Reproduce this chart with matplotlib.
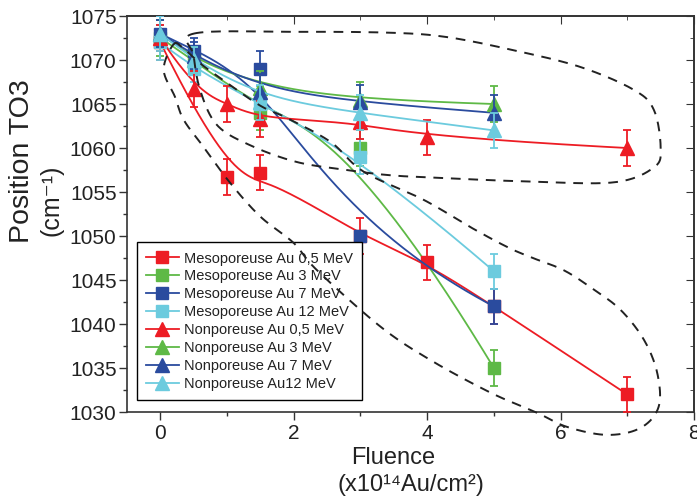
import numpy as np
import matplotlib
matplotlib.use("Agg")
import matplotlib.pyplot as plt
from matplotlib.ticker import MultipleLocator

plt.rcParams['font.family'] = ['Liberation Sans', 'DejaVu Sans']

# ---------------- data ----------------
labels = ["Mesoporeuse Au 0,5 MeV", "Mesoporeuse Au 3 MeV", "Mesoporeuse Au 7 MeV",
          "Mesoporeuse Au 12 MeV", "Nonporeuse Au 0,5 MeV", "Nonporeuse Au 3 MeV",
          "Nonporeuse Au 7 MeV", "Nonporeuse Au12 MeV"]

meso_05_x = [0, 1, 1.5, 3, 4, 5, 7]
meso_05_y = [1072, 1056.7, 1057.2, 1050, 1047, 1042, 1032]
meso_05_e = [2, 2, 2, 2, 2, 2, 2]
meso_3_x = [0, 0.5, 1.5, 3, 5]
meso_3_y = [1072.5, 1070, 1064, 1060, 1035]
meso_3_e = [2, 1.5, 2, 2, 2]
meso_7_x = [0, 0.5, 1.5, 3, 5]
meso_7_y = [1073, 1071, 1069, 1050, 1042]
meso_7_e = [2, 1.5, 2, 0.3, 2]
meso_12_x = [0, 0.5, 1.5, 3, 5]
meso_12_y = [1072, 1069, 1065, 1059, 1046]
meso_12_e = [2, 1.5, 2, 2, 2]

non_05_x = [0, 0.5, 1, 1.5, 3, 4, 7]
non_05_y = [1072.5, 1066.7, 1065, 1063.3, 1063, 1061.2, 1060]
non_05_e = [1.5, 2, 2, 2, 2, 2, 2]
non_3_x = [0, 0.5, 1.5, 3, 5]
non_3_y = [1073, 1070, 1066.8, 1065.5, 1065]
non_3_e = [1.5, 1.5, 2, 2, 2]
non_7_x = [0, 0.5, 1.5, 3, 5]
non_7_y = [1073, 1070.5, 1066.4, 1065.2, 1064]
non_7_e = [1.5, 1.5, 2, 2, 2]
non_12_x = [0, 0.5, 1.5, 3, 5]
non_12_y = [1073, 1070, 1065.2, 1064, 1062]
non_12_e = [2, 1.5, 2, 2, 2]

# annotation loops (data coordinates)
upper_loop_x = [0.5, 2.0, 3.45, 4.3, 5.3, 6.3, 7.1, 7.4, 7.5, 7.4, 6.8, 5.5, 4.2, 3.45,
                2.8, 2.05, 1.35, 0.85, 0.6, 0.5]
upper_loop_y = [1073.0, 1073.2, 1073.1, 1072.6, 1071.1, 1069.2, 1066.6, 1064.3, 1060.0,
                1057.8, 1056.1, 1056.2, 1056.6, 1056.9, 1057.5, 1058.4, 1060.3, 1062.6,
                1066.5, 1070.5]
lower_loop_x = [0.2, 0.35, 0.6, 1.0, 1.5, 1.9, 2.55, 3.05, 3.95, 4.65, 5.2, 5.55, 6.05,
                6.5, 6.9, 7.25, 7.45, 7.47, 7.2, 6.7, 6.1, 5.65, 4.95, 4.05, 3.3, 2.35,
                2.0, 1.5, 1.05, 0.65, 0.35, 0.22, 0.05]
lower_loop_y = [1071.8, 1071.3, 1069.6, 1067.4, 1064.8, 1063.4, 1060.7, 1057.3, 1054.1,
                1051.0, 1048.75, 1047.6, 1046.1, 1043.9, 1041.6, 1038.2, 1034.4, 1030.6,
                1028.2, 1027.4, 1028.3, 1029.9, 1032.2, 1035.9, 1039.7, 1046.1, 1049.2,
                1052.2, 1056.0, 1060.1, 1063.2, 1065.8, 1068.9]

xticks = [0, 2, 4, 6, 8]
yticks = [1030, 1035, 1040, 1045, 1050, 1055, 1060, 1065, 1070, 1075]

colors = ['#ED1C24', '#5EB946', '#2A4B9E', '#6CCBDE']


def bspline(x, y, n=300, k=3):
    P = np.column_stack([x, y]).astype(float)
    m = len(P)
    k = min(k, m - 1)
    knots = np.concatenate([[0] * (k + 1), np.arange(1, m - k), [m - k] * (k + 1)]).astype(float)
    t = np.linspace(0, m - k, n)
    t[-1] -= 1e-9
    N = np.zeros((n, len(knots) - 1))
    for i in range(len(knots) - 1):
        N[:, i] = (knots[i] <= t) & (t < knots[i + 1])
    for d in range(1, k + 1):
        Nn = np.zeros((n, len(knots) - 1 - d))
        for i in range(len(knots) - 1 - d):
            a = 0.0
            b = 0.0
            den1 = knots[i + d] - knots[i]
            den2 = knots[i + d + 1] - knots[i + 1]
            if den1 > 0:
                a = (t - knots[i]) / den1 * N[:, i]
            if den2 > 0:
                b = (knots[i + d + 1] - t) / den2 * N[:, i + 1]
            Nn[:, i] = a + b
        N = Nn
    C = N @ P
    return C[:, 0], C[:, 1]


def closed_cr(x, y, n=20):
    P = np.column_stack([x, y]).astype(float)
    m = len(P)
    out = []
    t = np.linspace(0, 1, n, endpoint=False)[:, None]
    for i in range(m):
        p0, p1, p2, p3 = P[i - 1], P[i], P[(i + 1) % m], P[(i + 2) % m]
        seg = 0.5 * (2 * p1 + (-p0 + p2) * t + (2 * p0 - 5 * p1 + 4 * p2 - p3) * t ** 2
                     + (-p0 + 3 * p1 - 3 * p2 + p3) * t ** 3)
        out.append(seg)
    out.append(P[:1])
    C = np.vstack(out)
    return C[:, 0], C[:, 1]


fig = plt.figure(figsize=(6.97, 4.97), dpi=100)
ax = fig.add_axes([0.1822, 0.171, 0.8135, 0.7968])

series = [
    (meso_05_x, meso_05_y, meso_05_e, 's', colors[0]),
    (meso_3_x, meso_3_y, meso_3_e, 's', colors[1]),
    (meso_7_x, meso_7_y, meso_7_e, 's', colors[2]),
    (meso_12_x, meso_12_y, meso_12_e, 's', colors[3]),
    (non_05_x, non_05_y, non_05_e, '^', colors[0]),
    (non_3_x, non_3_y, non_3_e, '^', colors[1]),
    (non_7_x, non_7_y, non_7_e, '^', colors[2]),
    (non_12_x, non_12_y, non_12_e, '^', colors[3]),
]

handles = []
for idx, ((x, y, e, mk, c), lab) in enumerate(zip(series, labels)):
    z = 3 + idx * 0.1
    sx, sy = bspline(x, y)
    ax.plot(sx, sy, '-', color=c, lw=1.3, zorder=z)
    ms = 8.8 if mk == 's' else 10.5
    ax.errorbar(x, y, yerr=e, fmt=mk, color=c, ms=ms, mec=c, ecolor=c,
                elinewidth=1.3, capsize=3, capthick=1.3, zorder=z + 0.05)
    h, = ax.plot([], [], '-', marker=mk, color=c, ms=ms, lw=1.3, label=lab)
    handles.append(h)

ux, uy = closed_cr(upper_loop_x, upper_loop_y)
ax.plot(ux, uy, color='#222222', lw=1.4, ls=(0, (5, 4)), zorder=10, clip_on=False)
lx, ly = closed_cr(lower_loop_x, lower_loop_y)
ax.plot(lx, ly, color='#222222', lw=1.4, ls=(0, (5, 4)), zorder=10, clip_on=False)

ax.set_xlim(-0.5, 8)
ax.set_ylim(1030, 1075)
ax.set_xticks(xticks)
ax.set_yticks(yticks)
ax.xaxis.set_minor_locator(MultipleLocator(1))
ax.yaxis.set_minor_locator(MultipleLocator(2.5))
ax.tick_params(axis='both', which='major', labelsize=15, length=5.5, width=1, direction='out',
               top=False, right=False, colors='#333333', labelcolor='#222222')
ax.tick_params(axis='x', which='major', pad=3)
ax.tick_params(axis='y', which='major', pad=2)
ax.tick_params(axis='both', which='minor', length=3, width=1, direction='out',
               top=False, right=False, colors='#333333')
sec_x = ax.secondary_xaxis('top')
sec_x.set_xticks(xticks)
sec_x.xaxis.set_minor_locator(MultipleLocator(1))
sec_x.tick_params(which='major', direction='in', length=5.5, labeltop=False, colors='#333333')
sec_x.tick_params(which='minor', direction='in', length=3, colors='#333333')
sec_y = ax.secondary_yaxis('right')
sec_y.set_yticks(yticks)
sec_y.yaxis.set_minor_locator(MultipleLocator(2.5))
sec_y.tick_params(which='major', direction='in', length=5.5, labelright=False, colors='#333333')
sec_y.tick_params(which='minor', direction='in', length=3, colors='#333333')
for s in list(ax.spines.values()) + list(sec_x.spines.values()) + list(sec_y.spines.values()):
    s.set_color('#333333')
    s.set_linewidth(1.2)

# axis titles (two lines each, placed as in the reference)
fig.text(0.5646, 0.0664, 'Fluence', fontsize=17, ha='center', va='baseline', color='#222222')
fig.text(0.590, 0.012, '(x10\u00b9\u2074Au/cm\u00b2)', fontsize=17, ha='center',
         va='baseline', color='#222222')
fig.text(0.031, 0.676, 'Position TO3', fontsize=20.5, rotation=90, ha='center', va='center',
         color='#222222')
fig.text(0.0745, 0.597, '(cm\u207b\u00b9)', fontsize=18, rotation=90, ha='center', va='center',
         color='#222222')

leg = ax.legend(handles=handles, loc='lower left', bbox_to_anchor=(0.0176, 0.030),
                borderaxespad=0, fontsize=10.5, frameon=True, fancybox=False,
                edgecolor='black', framealpha=1, handlelength=2.26, labelspacing=0.27,
                borderpad=0.62, handletextpad=0.35)
leg.get_frame().set_linewidth(1.0)
leg.set_zorder(6)
for t in leg.get_texts():
    t.set_color('#222222')

fig.savefig('out.png', dpi=100)
